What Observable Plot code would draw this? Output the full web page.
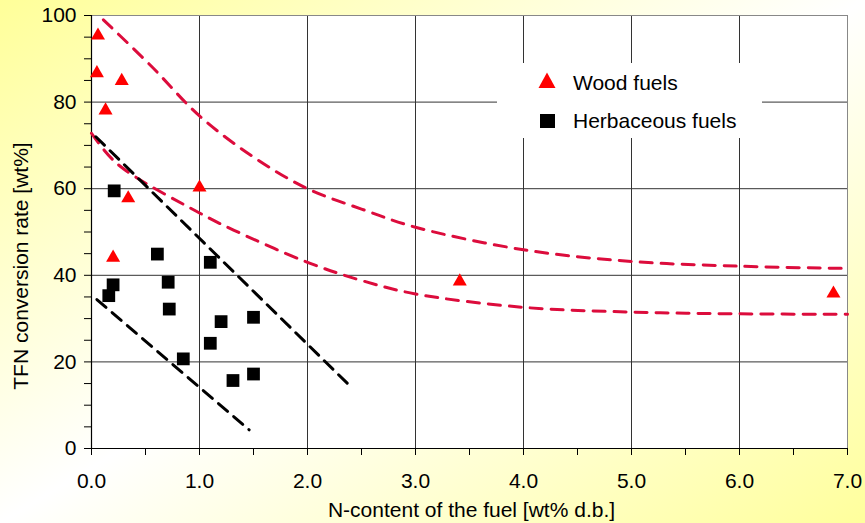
<!DOCTYPE html>
<html>
<head>
<meta charset="utf-8">
<script src="https://cdn.jsdelivr.net/npm/d3@7"></script>
<script src="https://cdn.jsdelivr.net/npm/@observablehq/plot@0.6"></script>
<style>
  html, body { margin: 0; padding: 0; }
  body {
    width: 865px; height: 523px; overflow: hidden;
    background: linear-gradient(to bottom right, #ffff99 0%, #ffffff 50%, #ffff9c 100%);
    font-family: "Liberation Sans", Arial, sans-serif;
  }
  #chart svg { display: block; }
</style>
</head>
<body>
<div id="chart"></div>
<script>
// ---- Data ----
const woodX = [0.06, 0.05, 0.28, 0.13, 0.34, 1.00, 0.20, 3.41, 6.87];
const woodY = [95.8, 87.1, 85.3, 78.5, 58.2, 60.7, 44.5, 39.0, 36.2];

const herbX = [0.21, 0.61, 1.10, 0.20, 0.16, 0.71, 0.72, 1.20, 1.50, 1.10, 0.85, 1.31, 1.50];
const herbY = [59.5, 44.9, 43.0, 37.8, 35.3, 38.4, 32.2, 29.3, 30.3, 24.3, 20.7, 15.7, 17.2];

// upper and lower red dashed envelope curves (wood)
const upperRedX = [0.11, 0.55, 1.00, 1.50, 2.00, 2.50, 3.00, 4.00, 5.00, 6.00, 6.95];
const upperRedY = [99.0, 88.4, 76.8, 67.3, 60.0, 55.3, 51.1, 45.9, 43.2, 42.1, 41.6];
const lowerRedX = [0.00, 0.24, 1.00, 1.32, 2.00, 2.50, 3.00, 4.00, 5.00, 6.00, 7.00];
const lowerRedY = [72.8, 65.7, 54.4, 50.4, 43.0, 38.8, 35.7, 32.6, 31.5, 31.1, 31.0];

// black dashed envelope lines (herbaceous)
const upperBlackX = [0.04, 2.42];
const upperBlackY = [72.0, 13.8];
const lowerBlackX = [0.05, 1.46];
const lowerBlackY = [34.4, 4.3];

const xTicks = [0, 1, 2, 3, 4, 5, 6, 7];
const xMinor = [0.5, 1.5, 2.5, 3.5, 4.5, 5.5, 6.5];
const yTicks = [0, 20, 40, 60, 80, 100];
const yMinor = [5, 10, 15, 25, 30, 35, 45, 50, 55, 65, 70, 75, 85, 90, 95];
const xGrid = [1, 2, 3, 4, 5, 6];
const yGrid = [20, 40, 60, 80];

const xTitle = "N-content of the fuel [wt% d.b.]";
const yTitle = "TFN conversion rate [wt%]";
const seriesNames = ["Wood fuels", "Herbaceous fuels"];

const zip = (xs, ys) => xs.map((x, i) => ({x, y: ys[i]}));
const wood = zip(woodX, woodY);
const herb = zip(herbX, herbY);
const upperRed = zip(upperRedX, upperRedY);
const lowerRed = zip(lowerRedX, lowerRedY);
const upperBlack = zip(upperBlackX, upperBlackY);
const lowerBlack = zip(lowerBlackX, lowerBlackY);

const RED_LINE = "#dc0c3c";
const FONT = 21;

const chart = Plot.plot({
  width: 865,
  height: 523,
  marginLeft: 91,
  marginRight: 18,
  marginTop: 15,
  marginBottom: 75,
  style: {background: "transparent", fontFamily: "'Liberation Sans', Arial, sans-serif", fontSize: FONT + "px", color: "#000"},
  x: {domain: [0, 7]},
  y: {domain: [0, 100]},
  marks: [
    Plot.frame({fill: "white", stroke: null}),
    Plot.gridX(xGrid, {stroke: "#333", strokeOpacity: 1, strokeWidth: 1}),
    Plot.gridY(yGrid, {stroke: "#333", strokeOpacity: 1, strokeWidth: 1}),
    Plot.frame({stroke: "#888", strokeWidth: 1}),
    Plot.ruleX([0], {stroke: "#000", strokeWidth: 1.2}),
    Plot.ruleY([0], {stroke: "#000", strokeWidth: 1.2}),
    Plot.axisX(xTicks, {tickSize: 7, tickPadding: 18, tickFormat: d3.format(".1f"), label: null, fontSize: FONT}),
    Plot.axisX(xMinor, {tickSize: 7, tickFormat: () => "", label: null}),
    Plot.axisY(yTicks, {tickSize: 7, tickPadding: 8, tickFormat: d3.format("d"), label: null, fontSize: FONT}),
    Plot.axisY(yMinor, {tickSize: 7, tickFormat: () => "", label: null}),
    Plot.line(upperRed, {x: "x", y: "y", curve: "catmull-rom", stroke: RED_LINE, strokeWidth: 3, strokeDasharray: "12,9"}),
    Plot.line(lowerRed, {x: "x", y: "y", curve: "catmull-rom", stroke: RED_LINE, strokeWidth: 3, strokeDasharray: "12,9"}),
    Plot.line(upperBlack, {x: "x", y: "y", stroke: "#000", strokeWidth: 3, strokeDasharray: "12,8"}),
    Plot.line(lowerBlack, {x: "x", y: "y", stroke: "#000", strokeWidth: 3, strokeDasharray: "12,8"}),
    Plot.dot(herb, {x: "x", y: "y", symbol: "square", r: 7.2, fill: "#000", stroke: null}),
    Plot.dot(wood, {x: "x", y: "y", symbol: "triangle", r: 5.2, fill: "#ff0000", stroke: null, dy: 1.8}),
    Plot.text([xTitle], {frameAnchor: "bottom", lineAnchor: "middle", textAnchor: "middle", dy: 62, dx: 2, fontSize: FONT, fill: "#000"}),
    Plot.text([yTitle], {frameAnchor: "left", lineAnchor: "middle", textAnchor: "middle", rotate: -90, dx: -70, dy: 34, fontSize: FONT, fill: "#000"})
  ]
});

// Legend drawn inside the plot area (white box hiding gridlines)
const svg = d3.select(chart);
const lg = svg.append("g")
  .attr("font-family", "'Liberation Sans', Arial, sans-serif")
  .attr("font-size", FONT)
  .attr("text-anchor", "start");
lg.append("rect").attr("x", 497).attr("y", 63).attr("width", 265).attr("height", 75).attr("fill", "white");
lg.append("path").attr("d", "M538.5,88L555.5,88L547,72.5Z").attr("fill", "#ff0000");
lg.append("rect").attr("x", 540).attr("y", 114).attr("width", 15).attr("height", 14).attr("fill", "#000");
lg.append("text").attr("x", 573).attr("y", 90).attr("fill", "#000").attr("text-anchor", "start").text(seriesNames[0]);
lg.append("text").attr("x", 573).attr("y", 128).attr("fill", "#000").attr("text-anchor", "start").text(seriesNames[1]);

document.getElementById("chart").appendChild(chart);
</script>
</body>
</html>
